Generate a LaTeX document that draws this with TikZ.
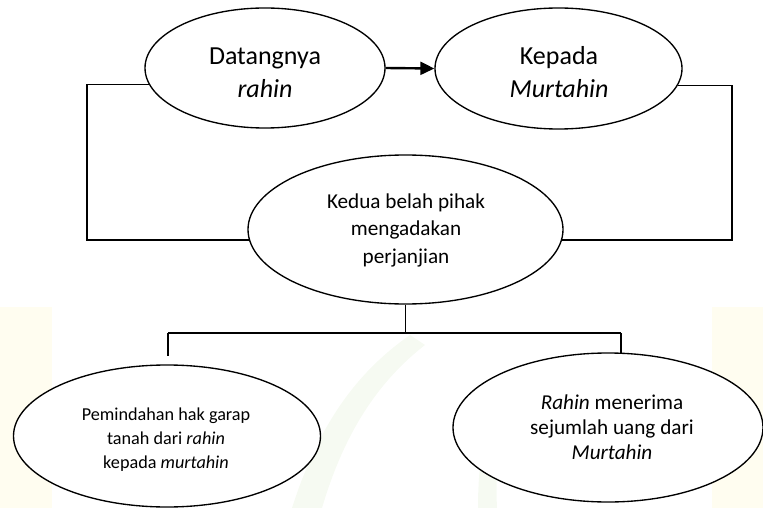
\documentclass[tikz,border=0pt]{standalone}
\usepackage{fontspec}
\setmainfont{Carlito}
\usetikzlibrary{shapes.geometric,arrows.meta}
\definecolor{wmy}{RGB}{255,253,240}
\definecolor{wmg}{RGB}{246,250,242}
\begin{document}
\begin{tikzpicture}[x=1pt,y=-1pt,
  oval/.style={ellipse,draw,line width=1.35pt,fill=white,inner sep=0pt},
  link/.style={line width=1.45pt},
  lbl/.style={align=center,inner sep=0pt},
  big/.style={font=\fontsize{26}{33}\selectfont},
  mid/.style={font=\fontsize{21.2}{27.5}\selectfont},
  sml/.style={font=\fontsize{18.2}{24}\selectfont},
  mid2/.style={font=\fontsize{21.2}{25}\selectfont}]
\useasboundingbox (0,0) rectangle (763,508);
% faint watermark
\fill[wmy] (0,307) rectangle (52,508);
\fill[wmy] (712,307) rectangle (763,508);
\fill[wmg] (292,508) .. controls (320,420) and (360,370) .. (410,335) -- (425,345) .. controls (380,380) and (345,430) .. (322,508) -- cycle;
\fill[wmg] (478,508) .. controls (478,460) and (485,420) .. (500,395) -- (512,405) .. controls (500,430) and (495,470) .. (497,508) -- cycle;
% ellipses
\node[oval,minimum width=240pt,minimum height=120pt] (e1) at (265,68) {};
\node[oval,minimum width=247pt,minimum height=121pt] (e2) at (558.5,68.5) {};
\node[oval,minimum width=315pt,minimum height=149pt] (e3) at (405.5,229.5) {};
\node[oval,minimum width=307pt,minimum height=142pt] (e4) at (167,436) {};
\node[oval,minimum width=310pt,minimum height=149pt] (e5) at (608,427.5) {};
% texts
\node[lbl,big] (t1) at (265,72.5) {Datangnya\\\textit{rahin}};
\node[lbl,big] (t2) at (559,71.8) {Kepada\\\textit{Murtahin}};
\node[lbl,mid] (t3) at (406,230.3) {Kedua belah pihak\\mengadakan\\perjanjian};
\node[lbl,sml] (t4) at (166,439.5) {Pemindahan hak garap\\tanah dari \textit{rahin}\\kepada \textit{murtahin}};
\node[lbl,mid2] (t5) at (612,427.7) {\textit{Rahin} menerima\\sejumlah uang dari\\\textit{Murtahin}};
% connectors
\draw[line width=2.4pt,-{Triangle[length=14pt,width=13pt]}] (e1.east) -- (e2.west);
\coordinate (lc) at (87,240);
\coordinate (rc) at (732,240);
\draw[link] (e1.188) -| (lc) -- (lc -| e3.184);
\draw[link] (e2.352) -| (rc) -- (rc -| e3.356);
\coordinate (bl) at (168,333);
\coordinate (br) at (621,333);
\coordinate (dl) at (168,356);
\coordinate (dr) at (621,354);
\draw[link] (e3.south) -- (e3.south |- bl);
\draw[link] (bl) -- (br);
\draw[link] (bl) -- (dl);
\draw[link] (br) -- (dr);
\end{tikzpicture}
\end{document}
